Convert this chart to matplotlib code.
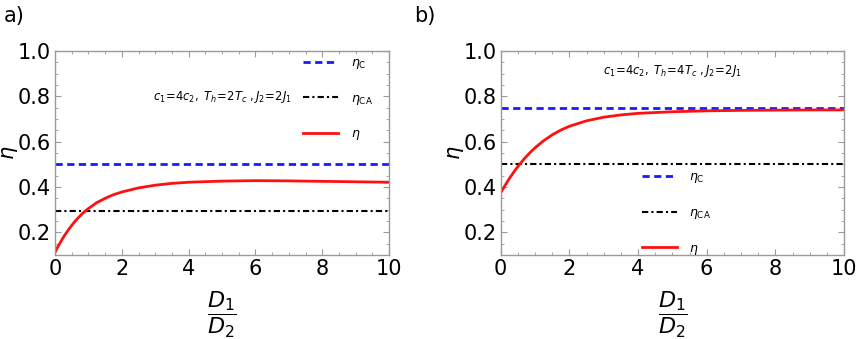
import numpy as np
import matplotlib
matplotlib.use("Agg")
import matplotlib.pyplot as plt
from matplotlib.ticker import MultipleLocator

# ratio D1/D2 and efficiency
ratio_a = [0, 0.1, 0.25, 0.4, 0.55, 0.7, 0.85, 1.0, 1.25, 1.5, 1.75, 2.0, 2.5, 3.0, 3.5, 4.0, 5.0, 6.0, 7.0, 8.0, 9.0, 10.0]
eta_a = [0.112, 0.14, 0.178, 0.211, 0.240, 0.265, 0.287, 0.305, 0.331, 0.350, 0.366, 0.378, 0.396, 0.408, 0.416, 0.421, 0.426, 0.428, 0.427, 0.425, 0.423, 0.421]
eta_c_a = 0.5
eta_ca_a = 0.293

ratio_b = [0, 0.1, 0.25, 0.4, 0.55, 0.7, 0.85, 1.0, 1.25, 1.5, 1.75, 2.0, 2.5, 3.0, 3.5, 4.0, 5.0, 6.0, 7.0, 8.0, 9.0, 10.0]
eta_b = [0.374, 0.400, 0.437, 0.470, 0.500, 0.527, 0.551, 0.573, 0.604, 0.630, 0.651, 0.668, 0.692, 0.708, 0.718, 0.725, 0.732, 0.736, 0.738, 0.739, 0.740, 0.740]
eta_c_b = 0.75
eta_ca_b = 0.5

notes = [r"$\mathit{c_1\!=\!4c_2,\ T_h\!=\!2T_c\ ,J_2\!=\!2J_1}$",
         r"$\mathit{c_1\!=\!4c_2,\ T_h\!=\!4T_c\ ,J_2\!=\!2J_1}$"]
panel_tags = ["a)", "b)"]

FRAME = "#9a9a9a"

fig = plt.figure(figsize=(8.58, 3.39), dpi=100)
ax_a = fig.add_axes([55/858, 1-255/339, 334/858, 204/339])
ax_b = fig.add_axes([500.7/858, 1-255/339, 343.3/858, 204/339])

def draw(ax, x, y, ec, eca):
    ax.axhline(ec, color="#1a1aff", lw=2.0, ls=(0, (2.6, 1.6)), label=r"$\eta_{\mathrm{C}}$")
    ax.axhline(eca, color="black", lw=1.5, ls=(0, (3, 1.5, 1, 1.5)), label=r"$\eta_{\mathrm{CA}}$")
    ax.plot(x, y, color="#ff1010", lw=2.0, label=r"$\eta$")
    ax.set_xlim(0, 10); ax.set_ylim(0.1, 1.0)
    ax.xaxis.set_major_locator(MultipleLocator(2)); ax.xaxis.set_minor_locator(MultipleLocator(0.5))
    ax.yaxis.set_major_locator(MultipleLocator(0.2)); ax.yaxis.set_minor_locator(MultipleLocator(0.05))
    ax.set_yticks([0.2, 0.4, 0.6, 0.8, 1.0])
    ax.tick_params(which="both", direction="in", top=True, right=True, color=FRAME, labelsize=15, pad=3)
    ax.tick_params(which="major", length=4, width=0.8)
    ax.tick_params(which="minor", length=2, width=0.6)
    for s in ax.spines.values():
        s.set_color(FRAME); s.set_linewidth(1.0)
    ax.set_xlabel(r"$\dfrac{D_1}{D_2}$", fontsize=16)
    ax.xaxis.set_label_coords(0.5, -0.17)
    ax.set_ylabel(r"$\eta$", fontsize=15)

draw(ax_a, ratio_a, eta_a, eta_c_a, eta_ca_a)
draw(ax_b, ratio_b, eta_b, eta_c_b, eta_ca_b)
ax_a.yaxis.set_label_coords(-0.105, 0.5)
ax_b.yaxis.set_label_coords(-0.10, 0.5)

leg_kw = dict(frameon=False, fontsize=9, handlelength=2.8, handletextpad=1.0,
              labelspacing=1.65, borderpad=0, borderaxespad=0, loc="upper left")
ax_a.legend(bbox_to_anchor=(0.743, 0.975), **leg_kw)
ax_b.legend(bbox_to_anchor=(0.411, 0.415), **leg_kw)

ax_a.text(0.5, 0.775, notes[0], transform=ax_a.transAxes, ha="center", va="center", fontsize=8.3)
ax_b.text(0.5, 0.902, notes[1], transform=ax_b.transAxes, ha="center", va="center", fontsize=8.3)

fig.text(4/858, 1-16/339, panel_tags[0], fontsize=15, va="center", ha="left")
fig.text(414/858, 1-16/339, panel_tags[1], fontsize=15, va="center", ha="left")

fig.savefig("out.png", dpi=100)
